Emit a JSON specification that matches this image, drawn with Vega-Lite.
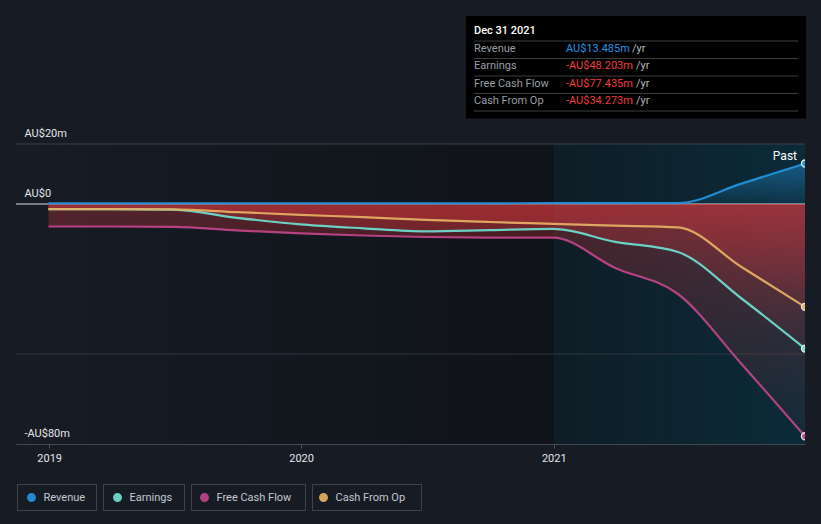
{
  "$schema": "https://vega.github.io/schema/vega-lite/v6.json",
  "width": 789,
  "height": 300,
  "autosize": {"type": "none"},
  "padding": {"left": 16, "top": 144, "right": 16, "bottom": 80},
  "background": "#161b24",
  "config": {"view": {"stroke": null}, "font": "Roboto", "text": {"font": "Roboto"}},
  "datasets": {
    "fin": [
      {"date": "2018-12-31", "series": "Revenue", "value": 0.2},
      {"date": "2019-03-31", "series": "Revenue", "value": 0.2},
      {"date": "2019-06-30", "series": "Revenue", "value": 0.2},
      {"date": "2019-09-30", "series": "Revenue", "value": 0.2},
      {"date": "2019-12-31", "series": "Revenue", "value": 0.2},
      {"date": "2020-03-31", "series": "Revenue", "value": 0.2},
      {"date": "2020-06-30", "series": "Revenue", "value": 0.2},
      {"date": "2020-09-30", "series": "Revenue", "value": 0.2},
      {"date": "2020-12-31", "series": "Revenue", "value": 0.3},
      {"date": "2021-03-31", "series": "Revenue", "value": 0.3},
      {"date": "2021-06-30", "series": "Revenue", "value": 0.3},
      {"date": "2021-09-30", "series": "Revenue", "value": 6.8},
      {"date": "2021-12-31", "series": "Revenue", "value": 13.485},
      {"date": "2018-12-31", "series": "Earnings", "value": -1.7},
      {"date": "2019-03-31", "series": "Earnings", "value": -1.7},
      {"date": "2019-06-30", "series": "Earnings", "value": -1.9},
      {"date": "2019-09-30", "series": "Earnings", "value": -4.6},
      {"date": "2019-12-31", "series": "Earnings", "value": -6.8},
      {"date": "2020-03-31", "series": "Earnings", "value": -8.1},
      {"date": "2020-06-30", "series": "Earnings", "value": -9.1},
      {"date": "2020-09-30", "series": "Earnings", "value": -8.7},
      {"date": "2020-12-31", "series": "Earnings", "value": -8.3},
      {"date": "2021-03-31", "series": "Earnings", "value": -12.6},
      {"date": "2021-06-30", "series": "Earnings", "value": -16.0},
      {"date": "2021-09-30", "series": "Earnings", "value": -31.5},
      {"date": "2021-12-31", "series": "Earnings", "value": -48.203},
      {"date": "2018-12-31", "series": "Free Cash Flow", "value": -7.5},
      {"date": "2019-03-31", "series": "Free Cash Flow", "value": -7.5},
      {"date": "2019-06-30", "series": "Free Cash Flow", "value": -7.6},
      {"date": "2019-09-30", "series": "Free Cash Flow", "value": -8.8},
      {"date": "2019-12-31", "series": "Free Cash Flow", "value": -9.8},
      {"date": "2020-03-31", "series": "Free Cash Flow", "value": -10.5},
      {"date": "2020-06-30", "series": "Free Cash Flow", "value": -11.0},
      {"date": "2020-09-30", "series": "Free Cash Flow", "value": -11.2},
      {"date": "2020-12-31", "series": "Free Cash Flow", "value": -11.2},
      {"date": "2021-03-31", "series": "Free Cash Flow", "value": -21.3},
      {"date": "2021-06-30", "series": "Free Cash Flow", "value": -30.0},
      {"date": "2021-09-30", "series": "Free Cash Flow", "value": -53.3},
      {"date": "2021-12-31", "series": "Free Cash Flow", "value": -77.435},
      {"date": "2018-12-31", "series": "Cash From Op", "value": -1.7},
      {"date": "2019-03-31", "series": "Cash From Op", "value": -1.7},
      {"date": "2019-06-30", "series": "Cash From Op", "value": -1.8},
      {"date": "2019-09-30", "series": "Cash From Op", "value": -2.7},
      {"date": "2019-12-31", "series": "Cash From Op", "value": -3.6},
      {"date": "2020-03-31", "series": "Cash From Op", "value": -4.4},
      {"date": "2020-06-30", "series": "Cash From Op", "value": -5.3},
      {"date": "2020-09-30", "series": "Cash From Op", "value": -6.0},
      {"date": "2020-12-31", "series": "Cash From Op", "value": -6.6},
      {"date": "2021-03-31", "series": "Cash From Op", "value": -7.2},
      {"date": "2021-06-30", "series": "Cash From Op", "value": -7.8},
      {"date": "2021-09-30", "series": "Cash From Op", "value": -21.0},
      {"date": "2021-12-31", "series": "Cash From Op", "value": -34.273}
    ],
    "tip": [
      {"row": "Dec 31 2021", "label": "Dec 31 2021", "value": "", "kind": "head"},
      {"row": "Revenue", "label": "Revenue", "value": "AU$13.485m", "kind": "pos"},
      {"row": "Earnings", "label": "Earnings", "value": "-AU$48.203m", "kind": "neg"},
      {"row": "Free Cash Flow", "label": "Free Cash Flow", "value": "-AU$77.435m", "kind": "neg"},
      {"row": "Cash From Op", "label": "Cash From Op", "value": "-AU$34.273m", "kind": "neg"}
    ]
  },
  "layer": [
    {
      "data": {"name": "fin"},
      "layer": [
        {
          "data": {"values": [{}]},
          "mark": {"type": "rect", "fill": {"gradient": "linear", "x1": 0, "y1": 0, "x2": 1, "y2": 0, "stops": [{"offset": 0, "color": "#171c25"}, {"offset": 0.6, "color": "#10141a"}, {"offset": 1, "color": "#0f1318"}]}},
          "encoding": {
            "x": {"datum": {"year": 2018, "month": 11, "date": 14}, "type": "temporal", "title": null},
            "x2": {"datum": {"year": 2021, "month": 12, "date": 31}},
            "y": {"datum": 20, "type": "quantitative", "title": null},
            "y2": {"datum": -80}
          }
        },
        {
          "data": {"values": [{}]},
          "mark": {"type": "rect", "fill": {"gradient": "linear", "x1": 0, "y1": 0, "x2": 1, "y2": 0, "stops": [{"offset": 0, "color": "#0e1d26"}, {"offset": 1, "color": "#0b2b39"}]}},
          "encoding": {
            "x": {"datum": {"year": 2021, "month": 1, "date": 1}, "type": "temporal", "title": null},
            "x2": {"datum": {"year": 2021, "month": 12, "date": 31}},
            "y": {"datum": 20, "type": "quantitative", "title": null},
            "y2": {"datum": -80}
          }
        },
        {
          "data": {"values": [{}]},
          "mark": {"type": "rule", "color": "#3b4049", "strokeWidth": 1},
          "encoding": {"y": {"datum": 20, "type": "quantitative", "title": null}}
        },
        {
          "data": {"values": [{}]},
          "mark": {"type": "rule", "color": "#30363e", "strokeWidth": 1},
          "encoding": {"y": {"datum": -50, "type": "quantitative", "title": null}}
        },
        {
          "data": {"values": [{}]},
          "mark": {"type": "rule", "color": "#ffffff", "opacity": 0.85, "strokeWidth": 1},
          "encoding": {"y": {"datum": 0, "type": "quantitative", "title": null}}
        },
        {
          "transform": [{"filter": "datum.series === 'Revenue'"}],
          "mark": {"type": "area", "interpolate": "monotone", "fill": {"gradient": "linear", "x1": 0, "y1": 0, "x2": 0, "y2": 1, "stops": [{"offset": 0, "color": "rgba(35,148,223,0.45)"}, {"offset": 1, "color": "rgba(35,148,223,0.08)"}]}},
          "encoding": {
            "x": {"field": "date", "type": "temporal", "title": null},
            "y": {"field": "value", "type": "quantitative", "stack": null, "title": null},
            "y2": {"datum": 0}
          }
        },
        {
          "transform": [{"filter": "datum.series !== 'Revenue'"}],
          "mark": {"type": "area", "interpolate": "monotone", "fill": {"gradient": "linear", "x1": 0, "y1": 0, "x2": 0, "y2": 1, "stops": [{"offset": 0, "color": "rgba(226,56,62,0.30)"}, {"offset": 1, "color": "rgba(226,56,62,0.04)"}]}},
          "encoding": {
            "x": {"field": "date", "type": "temporal", "title": null},
            "y": {"field": "value", "type": "quantitative", "stack": null, "title": null},
            "y2": {"datum": 0},
            "detail": {"field": "series", "type": "nominal"}
          }
        },
        {
          "mark": {"type": "line", "interpolate": "monotone", "strokeWidth": 2.2, "opacity": 0.92},
          "encoding": {
            "x": {
              "field": "date", "type": "temporal", "title": null,
              "scale": {"domain": [{"year": 2018, "month": 11, "date": 14}, {"year": 2021, "month": 12, "date": 31}]},
              "axis": {"values": [{"year": 2019, "month": 1, "date": 1}, {"year": 2020, "month": 1, "date": 1}, {"year": 2021, "month": 1, "date": 1}], "format": "%Y", "title": null, "grid": false, "labelFlush": false, "domainColor": "#434952", "tickColor": "#4d535c", "tickSize": 4, "labelColor": "#e4e6ea", "labelFontSize": 11, "labelPadding": 4, "labelFont": "Roboto", "zindex": 1}
            },
            "y": {
              "field": "value", "type": "quantitative", "title": null,
              "scale": {"domain": [-80, 20], "nice": false, "zero": false},
              "axis": {"values": [20, 0, -80], "title": null, "grid": false, "domain": false, "ticks": false, "tickSize": 0, "labelAlign": "left", "labelBaseline": "alphabetic", "labelPadding": -8, "labelOffset": -8, "labelColor": "#e4e6ea", "labelFontSize": 11, "labelFont": "Roboto", "labelOverlap": false, "zindex": 1, "labelExpr": "datum.value == 0 ? 'AU$0' : (datum.value < 0 ? '-AU$' + abs(datum.value) + 'm' : 'AU$' + datum.value + 'm')"}
            },
            "color": {
              "field": "series", "type": "nominal",
              "scale": {"domain": ["Revenue", "Earnings", "Free Cash Flow", "Cash From Op"], "range": ["#2394df", "#6ee0d2", "#c2448a", "#e6b163"]},
              "legend": {
                "orient": "none", "legendX": -1, "legendY": 340, "direction": "horizontal", "title": null,
                "symbolType": "circle", "symbolSize": 55, "labelFontSize": 11, "labelColor": "#c5c8ce", "labelFont": "Roboto",
                "columnPadding": 15, "padding": 0, "clipHeight": 27, "symbolOffset": 11, "labelOffset": 6.5
              }
            }
          }
        },
        {
          "transform": [{"filter": "false"}],
          "mark": {"type": "point", "filled": true, "color": "#3d434c", "opacity": 1},
          "encoding": {
            "x": {"field": "date", "type": "temporal", "title": null},
            "y": {"field": "value", "type": "quantitative", "title": null},
            "shape": {
              "field": "series", "type": "nominal",
              "scale": {"domain": ["box1", "box2", "box3", "box4"], "range": ["M0,-1H80V26H0ZM1,0V25H79V0Z", "M0,-1H82V26H0ZM1,0V25H81V0Z", "M0,-1H115V26H0ZM1,0V25H114V0Z", "M0,-1H110V26H0ZM1,0V25H109V0Z"]},
              "legend": {
                "orient": "none", "legendX": 0, "legendY": 340, "direction": "horizontal", "title": null,
                "symbolSize": 4, "symbolStrokeWidth": 0, "symbolFillColor": "#3d434c", "labelExpr": "''", "labelFontSize": 1, "labelOffset": 0, "symbolOffset": 0,
                "columnPadding": 5, "padding": 0
              }
            }
          }
        },
        {
          "transform": [{"filter": "utcyear(datum.date) == 2021 && utcmonth(datum.date) == 11"}],
          "mark": {"type": "point", "filled": true, "size": 50, "stroke": "#eaeaea", "strokeWidth": 1.3, "opacity": 1, "clip": true},
          "encoding": {
            "x": {"field": "date", "type": "temporal", "title": null},
            "y": {"field": "value", "type": "quantitative", "title": null},
            "color": {"field": "series", "type": "nominal"}
          }
        },
        {
          "data": {"values": [{}]},
          "mark": {"type": "text", "text": "Past", "align": "right", "baseline": "middle", "dx": -8, "dy": 12, "color": "#ffffff", "fontSize": 12},
          "encoding": {
            "x": {"datum": {"year": 2021, "month": 12, "date": 31}, "type": "temporal", "title": null},
            "y": {"datum": 20, "type": "quantitative", "title": null}
          }
        }
      ]
    },
    {
      "data": {"name": "tip"},
      "layer": [
        {
          "mark": {"type": "rect", "fill": "#000000", "stroke": "#000000", "strokeWidth": 15},
          "encoding": {
            "x": {"datum": 7.5, "type": "quantitative", "scale": {"domain": [0, 340], "range": [450, 790]}, "axis": null, "title": null},
            "x2": {"datum": 332.5},
            "y": {"field": "row", "type": "nominal", "scale": {"type": "band", "domain": ["Dec 31 2021", "Revenue", "Earnings", "Free Cash Flow", "Cash From Op"], "range": [-120.5, -33], "paddingInner": 0, "paddingOuter": 0}, "axis": null, "title": null}
          }
        },
        {
          "mark": {"type": "rule", "color": "#3a3c40", "strokeWidth": 1},
          "encoding": {
            "x": {"datum": 8, "type": "quantitative", "scale": {"domain": [0, 340], "range": [450, 790]}, "axis": null, "title": null},
            "x2": {"datum": 332},
            "y": {"field": "row", "type": "nominal", "bandPosition": 1, "scale": {"type": "band", "domain": ["Dec 31 2021", "Revenue", "Earnings", "Free Cash Flow", "Cash From Op"], "range": [-120.5, -33], "paddingInner": 0, "paddingOuter": 0}, "axis": null, "title": null}
          }
        },
        {
          "transform": [{"filter": "datum.kind === 'head'"}],
          "mark": {"type": "text", "align": "left", "baseline": "middle", "fontSize": 11, "fontWeight": 500, "color": "#ffffff", "dy": -1},
          "encoding": {
            "x": {"datum": 8, "type": "quantitative", "scale": {"domain": [0, 340], "range": [450, 790]}, "axis": null, "title": null},
            "y": {"field": "row", "type": "nominal", "bandPosition": 0.5, "scale": {"type": "band", "domain": ["Dec 31 2021", "Revenue", "Earnings", "Free Cash Flow", "Cash From Op"], "range": [-120.5, -33], "paddingInner": 0, "paddingOuter": 0}, "axis": null, "title": null},
            "text": {"field": "label"}
          }
        },
        {
          "transform": [{"filter": "datum.kind !== 'head'"}],
          "mark": {"type": "text", "align": "left", "baseline": "middle", "fontSize": 11, "color": "#9a9ea6", "dy": -1},
          "encoding": {
            "x": {"datum": 8, "type": "quantitative", "scale": {"domain": [0, 340], "range": [450, 790]}, "axis": null, "title": null},
            "y": {"field": "row", "type": "nominal", "bandPosition": 0.5, "scale": {"type": "band", "domain": ["Dec 31 2021", "Revenue", "Earnings", "Free Cash Flow", "Cash From Op"], "range": [-120.5, -33], "paddingInner": 0, "paddingOuter": 0}, "axis": null, "title": null},
            "text": {"field": "label"}
          }
        },
        {
          "transform": [{"filter": "datum.kind === 'pos'"}],
          "mark": {"type": "text", "text": "/yr", "align": "left", "baseline": "middle", "fontSize": 11, "color": "#b4b8be", "dy": -1},
          "encoding": {
            "x": {"datum": 166, "type": "quantitative", "scale": {"domain": [0, 340], "range": [450, 790]}, "axis": null, "title": null},
            "y": {"field": "row", "type": "nominal", "bandPosition": 0.5, "scale": {"type": "band", "domain": ["Dec 31 2021", "Revenue", "Earnings", "Free Cash Flow", "Cash From Op"], "range": [-120.5, -33], "paddingInner": 0, "paddingOuter": 0}, "axis": null, "title": null}
          }
        },
        {
          "transform": [{"filter": "datum.kind === 'neg'"}],
          "mark": {"type": "text", "text": "/yr", "align": "left", "baseline": "middle", "fontSize": 11, "color": "#b4b8be", "dy": -1},
          "encoding": {
            "x": {"datum": 170, "type": "quantitative", "scale": {"domain": [0, 340], "range": [450, 790]}, "axis": null, "title": null},
            "y": {"field": "row", "type": "nominal", "bandPosition": 0.5, "scale": {"type": "band", "domain": ["Dec 31 2021", "Revenue", "Earnings", "Free Cash Flow", "Cash From Op"], "range": [-120.5, -33], "paddingInner": 0, "paddingOuter": 0}, "axis": null, "title": null}
          }
        },
        {
          "transform": [{"filter": "datum.kind !== 'head'"}],
          "mark": {"type": "text", "align": "left", "baseline": "middle", "fontSize": 11, "dy": -1},
          "encoding": {
            "x": {"datum": 100, "type": "quantitative", "scale": {"domain": [0, 340], "range": [450, 790]}, "axis": null, "title": null},
            "y": {"field": "row", "type": "nominal", "bandPosition": 0.5, "scale": {"type": "band", "domain": ["Dec 31 2021", "Revenue", "Earnings", "Free Cash Flow", "Cash From Op"], "range": [-120.5, -33], "paddingInner": 0, "paddingOuter": 0}, "axis": null, "title": null},
            "text": {"field": "value"},
            "color": {"condition": {"test": "datum.kind === 'pos'", "value": "#1f95e4"}, "value": "#ee3d3d"}
          }
        }
      ]
    }
  ],
  "resolve": {"scale": {"x": "independent", "y": "independent"}}
}
